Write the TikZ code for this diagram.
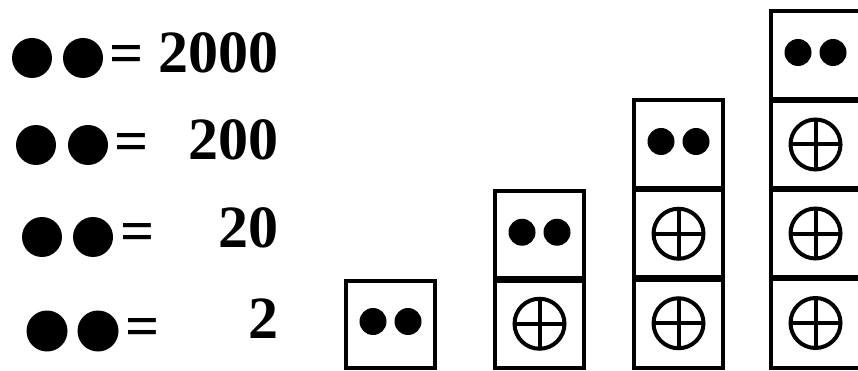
\documentclass[tikz,border=0pt]{standalone}
\usepackage{fontspec}
\setmainfont{Liberation Serif}
\begin{document}
\begin{tikzpicture}[x=1pt,y=-1pt,
  cell/.style={draw=black,line width=4.5pt,rectangle,inner sep=0pt,outer sep=0pt,minimum width=89pt,anchor=north west},
  divider/.style={line width=6.5pt},
  num/.style={font=\bfseries\fontsize{60}{60}\selectfont,inner sep=0pt},
  dotpair/.pic={\fill (-17.5,-3) circle (13.5pt); \fill (17.5,-3) circle (13.5pt);},
  cplus/.pic={\draw[line width=4pt] (0,0) circle (25pt);
              \draw[line width=4pt] (-25,0) -- (25,0) (0,-25) -- (0,25);},
  bigdot/.style={fill=black}
]
\fill[white] (0,0) rectangle (858,371);
\useasboundingbox (0,0) rectangle (858,371);

% left legend
\fill[bigdot] (32,58) circle (20pt);  \fill[bigdot] (83,58) circle (20pt);
\node[num,anchor=base] (e1) at (127,73.5) {=};
\node[num,anchor=base east] (n1) at (279,73) {2000};

\fill[bigdot] (36,145) circle (20pt); \fill[bigdot] (88,145) circle (20pt);
\node[num,anchor=base] (e2) at (132,162) {=};
\node[num,anchor=base east] (n2) at (279,160) {200};

\fill[bigdot] (42,237) circle (20pt); \fill[bigdot] (93,237) circle (20pt);
\node[num,anchor=base] (e3) at (137.5,251.5) {=};
\node[num,anchor=base east] (n3) at (279,247) {20};

\fill[bigdot] (47,331) circle (20.5pt); \fill[bigdot] (98,331) circle (20.5pt);
\node[num,anchor=base] (e4) at (142.5,346.5) {=};
\node[num,anchor=base east] (n4) at (279,338) {2};

% column 1
\node[cell,minimum height=87pt] (a1) at (346,281) {};
\pic at (a1) {dotpair};

% column 2
\node[cell,minimum height=88.5pt] (b1) at (495,191) {};
\node[cell,minimum height=88.5pt] (b2) at (495,279.5) {};
\draw[divider] (b1.south west) -- (b1.south east);
\pic at (b1) {dotpair};
\pic at (b2) {cplus};

% column 3
\node[cell,minimum height=89pt] (c1) at (634,100) {};
\node[cell,minimum height=89.5pt] (c2) at (634,189) {};
\node[cell,minimum height=89.5pt] (c3) at (634,278.5) {};
\draw[divider] (c1.south west) -- (c1.south east);
\draw[divider] (c2.south west) -- (c2.south east);
\pic at (c1) {dotpair};
\pic at (c2) {cplus};
\pic at (c3) {cplus};

% column 4
\node[cell,minimum height=89pt] (d1) at (771,11) {};
\node[cell,minimum height=89pt] (d2) at (771,100) {};
\node[cell,minimum height=89pt] (d3) at (771,189) {};
\node[cell,minimum height=90pt] (d4) at (771,278) {};
\draw[divider] (d1.south west) -- (d1.south east);
\draw[divider] (d2.south west) -- (d2.south east);
\draw[divider] (d3.south west) -- (d3.south east);
\pic at (d1) {dotpair};
\pic at (d2) {cplus};
\pic at (d3) {cplus};
\pic at (d4) {cplus};
\end{tikzpicture}
\end{document}
